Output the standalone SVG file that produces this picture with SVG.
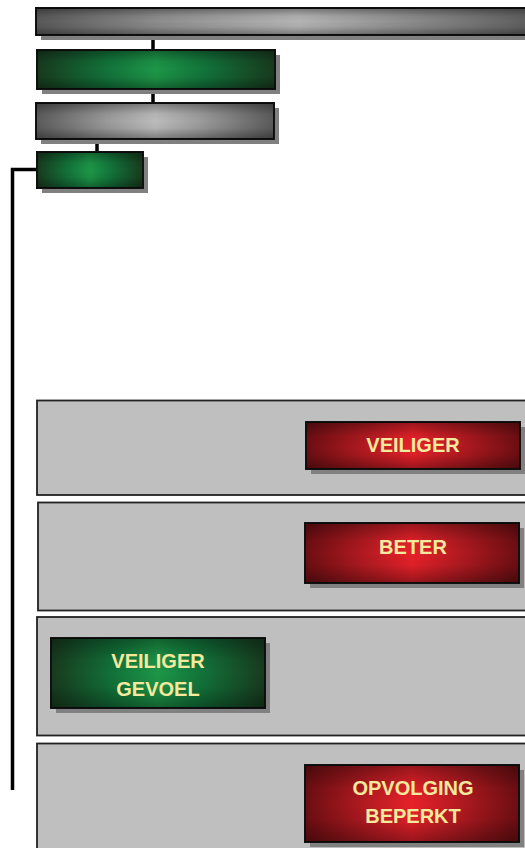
<svg xmlns="http://www.w3.org/2000/svg" width="525" height="848" viewBox="0 0 525 848">
<defs>
<linearGradient id="gGray" x1="0" y1="0" x2="1" y2="0">
<stop offset="0" stop-color="#5a5a5a"/><stop offset="0.3" stop-color="#9a9a9a"/><stop offset="0.5" stop-color="#bcbcbc"/><stop offset="0.7" stop-color="#9a9a9a"/><stop offset="1" stop-color="#5a5a5a"/>
</linearGradient>
<linearGradient id="gTop" x1="36" y1="0" x2="540" y2="0" gradientUnits="userSpaceOnUse">
<stop offset="0" stop-color="#585858"/><stop offset="0.25" stop-color="#8e8e8e"/><stop offset="0.52" stop-color="#b4b4b4"/><stop offset="0.75" stop-color="#8a8a8a"/><stop offset="1" stop-color="#5a5a5a"/>
</linearGradient>
<linearGradient id="gGreen" x1="0" y1="0" x2="1" y2="0">
<stop offset="0" stop-color="#183a1e"/><stop offset="0.3" stop-color="#12743a"/><stop offset="0.5" stop-color="#1d9648"/><stop offset="0.7" stop-color="#12743a"/><stop offset="1" stop-color="#183a1e"/>
</linearGradient>
<linearGradient id="gRed" x1="0" y1="0" x2="1" y2="0">
<stop offset="0" stop-color="#6c0e12"/><stop offset="0.3" stop-color="#b81b22"/><stop offset="0.5" stop-color="#e8212a"/><stop offset="0.7" stop-color="#b81b22"/><stop offset="1" stop-color="#6c0e12"/>
</linearGradient>
<linearGradient id="gShade" x1="0" y1="0" x2="0" y2="1">
<stop offset="0" stop-color="#000" stop-opacity="0.35"/><stop offset="0.3" stop-color="#000" stop-opacity="0.05"/><stop offset="0.5" stop-color="#000" stop-opacity="0"/><stop offset="0.7" stop-color="#000" stop-opacity="0.05"/><stop offset="1" stop-color="#000" stop-opacity="0.35"/>
</linearGradient>
</defs>
<style>
.sh{fill:#808080}
.bx{stroke:#111;stroke-width:2}
.ov{fill:url(#gShade)}
.panel{fill:#bfbfbf;stroke:#222;stroke-width:1.8}
.conn{stroke:#000;stroke-width:3.5;fill:none}
.lbl{font-family:"Liberation Sans",Arial,sans-serif;font-weight:bold;font-size:20px;fill:#f4e99c;text-anchor:middle}
</style>
<g id="connectors">
<line class="conn" x1="153" y1="35" x2="153" y2="50"/>
<line class="conn" x1="153" y1="89" x2="153" y2="103"/>
<line class="conn" x1="97" y1="139" x2="97" y2="152"/>
<polyline class="conn" points="37,169.5 12.5,169.5 12.5,790"/>
</g>
<g id="top-bar">
<rect class="sh" x="41" y="13" width="500" height="27"/>
<rect x="36" y="8" width="504" height="27" fill="url(#gTop)" class="bx"/>
<rect x="36" y="8" width="504" height="27" class="ov"/>
</g>
<g id="box-green-1">
<rect class="sh" x="42" y="55" width="238" height="39"/>
<rect x="37" y="50" width="238" height="39" fill="url(#gGreen)" class="bx"/>
<rect x="37" y="50" width="238" height="39" class="ov"/>
</g>
<g id="box-gray-2">
<rect class="sh" x="41" y="108" width="238" height="36"/>
<rect x="36" y="103" width="238" height="36" fill="url(#gGray)" class="bx"/>
<rect x="36" y="103" width="238" height="36" class="ov"/>
</g>
<g id="box-green-3">
<rect class="sh" x="42" y="157" width="106" height="36"/>
<rect x="37" y="152" width="106" height="36" fill="url(#gGreen)" class="bx"/>
<rect x="37" y="152" width="106" height="36" class="ov"/>
</g>
<g id="panel-1">
<rect class="panel" x="37" y="400.5" width="500" height="94.5"/>
</g>
<g id="panel-2">
<rect class="panel" x="38" y="502.5" width="500" height="108"/>
</g>
<g id="panel-3">
<rect class="panel" x="37" y="617" width="500" height="118.5"/>
</g>
<g id="panel-4">
<rect class="panel" x="37" y="743.5" width="500" height="120"/>
</g>
<g id="node-veiliger">
<rect class="sh" x="311" y="427" width="214" height="47"/>
<rect x="306" y="422" width="214" height="47" fill="url(#gRed)" class="bx"/>
<rect x="306" y="422" width="214" height="47" class="ov"/>
<text class="lbl" x="413" y="451.5">VEILIGER</text>
</g>
<g id="node-beter">
<rect class="sh" x="310" y="528" width="214" height="60"/>
<rect x="305" y="523" width="214" height="60" fill="url(#gRed)" class="bx"/>
<rect x="305" y="523" width="214" height="60" class="ov"/>
<text class="lbl" x="413" y="553.5">BETER</text>
</g>
<g id="node-veiliger-gevoel">
<rect class="sh" x="56" y="643" width="214" height="70"/>
<rect x="51" y="638" width="214" height="70" fill="url(#gGreen)" class="bx"/>
<rect x="51" y="638" width="214" height="70" class="ov"/>
<text class="lbl" x="158" y="668">VEILIGER</text>
<text class="lbl" x="158" y="696">GEVOEL</text>
</g>
<g id="node-opvolging-beperkt">
<rect class="sh" x="310" y="770" width="214" height="77"/>
<rect x="305" y="765" width="214" height="77" fill="url(#gRed)" class="bx"/>
<rect x="305" y="765" width="214" height="77" class="ov"/>
<text class="lbl" x="413" y="794.5">OPVOLGING</text>
<text class="lbl" x="413" y="822.5">BEPERKT</text>
</g>
</svg>
